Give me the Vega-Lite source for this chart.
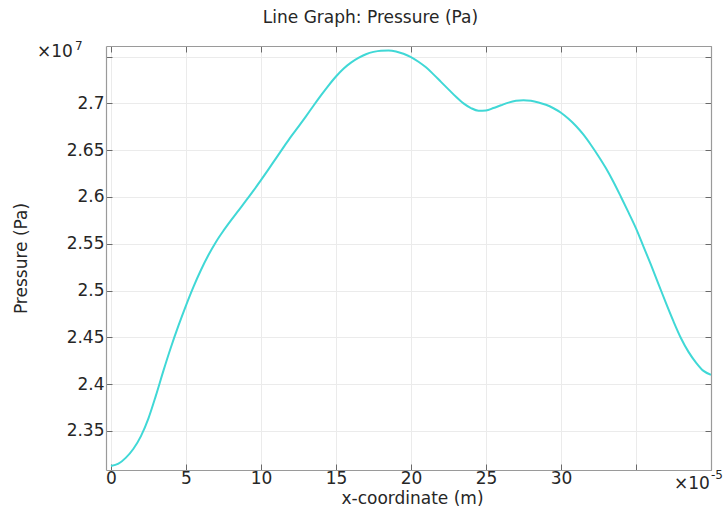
{
  "$schema": "https://vega.github.io/schema/vega-lite/v6.json",
  "width": 605,
  "height": 424,
  "autosize": {"type": "none"},
  "padding": {"left": 106, "top": 46, "right": 13, "bottom": 40},
  "background": "white",
  "title": {
    "text": "Line Graph: Pressure (Pa)",
    "font": "DejaVu Sans",
    "fontSize": 17,
    "fontWeight": "normal",
    "color": "#262626",
    "anchor": "middle",
    "frame": "group",
    "dx": -38,
    "baseline": "alphabetic",
    "offset": 0
  },
  "config": {
    "font": "DejaVu Sans",
    "view": {"stroke": null},
    "axis": {
      "labelFont": "DejaVu Sans",
      "labelFontSize": 17,
      "labelColor": "#262626",
      "titleFont": "DejaVu Sans",
      "titleFontSize": 17,
      "titleFontWeight": "normal",
      "titleColor": "#262626",
      "gridColor": "#ebebeb",
      "gridWidth": 1,
      "domainColor": "#9a9a9a",
      "domainWidth": 1.2,
      "tickColor": "#6a6a6a",
      "tickSize": -6,
      "tickWidth": 1
    }
  },
  "data": {
    "values": [
      {"x": 0, "pressure": 23125000},
      {"x": 5e-6, "pressure": 23150000},
      {"x": 1e-5, "pressure": 23215000},
      {"x": 1.5e-5, "pressure": 23310000},
      {"x": 2e-5, "pressure": 23445000},
      {"x": 2.5e-5, "pressure": 23635000},
      {"x": 3e-5, "pressure": 23880000},
      {"x": 3.5e-5, "pressure": 24145000},
      {"x": 4e-5, "pressure": 24395000},
      {"x": 4.5e-5, "pressure": 24625000},
      {"x": 5e-5, "pressure": 24840000},
      {"x": 5.5e-5, "pressure": 25040000},
      {"x": 6e-5, "pressure": 25220000},
      {"x": 6.5e-5, "pressure": 25380000},
      {"x": 7e-5, "pressure": 25520000},
      {"x": 7.5e-5, "pressure": 25640000},
      {"x": 8e-5, "pressure": 25750000},
      {"x": 8.5e-5, "pressure": 25855000},
      {"x": 9e-5, "pressure": 25960000},
      {"x": 9.5e-5, "pressure": 26068000},
      {"x": 1e-4, "pressure": 26180000},
      {"x": 1.05e-4, "pressure": 26295000},
      {"x": 1.1e-4, "pressure": 26413000},
      {"x": 1.15e-4, "pressure": 26530000},
      {"x": 1.2e-4, "pressure": 26645000},
      {"x": 1.25e-4, "pressure": 26752000},
      {"x": 1.3e-4, "pressure": 26862000},
      {"x": 1.35e-4, "pressure": 26975000},
      {"x": 1.4e-4, "pressure": 27085000},
      {"x": 1.45e-4, "pressure": 27190000},
      {"x": 1.5e-4, "pressure": 27287000},
      {"x": 1.55e-4, "pressure": 27370000},
      {"x": 1.6e-4, "pressure": 27435000},
      {"x": 1.65e-4, "pressure": 27485000},
      {"x": 1.7e-4, "pressure": 27525000},
      {"x": 1.75e-4, "pressure": 27550000},
      {"x": 1.8e-4, "pressure": 27563000},
      {"x": 1.85e-4, "pressure": 27565000},
      {"x": 1.9e-4, "pressure": 27555000},
      {"x": 1.95e-4, "pressure": 27530000},
      {"x": 2e-4, "pressure": 27495000},
      {"x": 2.05e-4, "pressure": 27445000},
      {"x": 2.1e-4, "pressure": 27385000},
      {"x": 2.15e-4, "pressure": 27310000},
      {"x": 2.2e-4, "pressure": 27230000},
      {"x": 2.25e-4, "pressure": 27150000},
      {"x": 2.3e-4, "pressure": 27070000},
      {"x": 2.35e-4, "pressure": 27000000},
      {"x": 2.4e-4, "pressure": 26950000},
      {"x": 2.45e-4, "pressure": 26922000},
      {"x": 2.5e-4, "pressure": 26925000},
      {"x": 2.55e-4, "pressure": 26950000},
      {"x": 2.6e-4, "pressure": 26980000},
      {"x": 2.65e-4, "pressure": 27008000},
      {"x": 2.7e-4, "pressure": 27027000},
      {"x": 2.75e-4, "pressure": 27034000},
      {"x": 2.8e-4, "pressure": 27027000},
      {"x": 2.85e-4, "pressure": 27010000},
      {"x": 2.9e-4, "pressure": 26985000},
      {"x": 2.95e-4, "pressure": 26948000},
      {"x": 3e-4, "pressure": 26900000},
      {"x": 3.05e-4, "pressure": 26835000},
      {"x": 3.1e-4, "pressure": 26758000},
      {"x": 3.15e-4, "pressure": 26665000},
      {"x": 3.2e-4, "pressure": 26555000},
      {"x": 3.25e-4, "pressure": 26435000},
      {"x": 3.3e-4, "pressure": 26306000},
      {"x": 3.35e-4, "pressure": 26160000},
      {"x": 3.4e-4, "pressure": 26000000},
      {"x": 3.45e-4, "pressure": 25835000},
      {"x": 3.5e-4, "pressure": 25665000},
      {"x": 3.55e-4, "pressure": 25470000},
      {"x": 3.6e-4, "pressure": 25274000},
      {"x": 3.65e-4, "pressure": 25070000},
      {"x": 3.7e-4, "pressure": 24865000},
      {"x": 3.75e-4, "pressure": 24670000},
      {"x": 3.8e-4, "pressure": 24491000},
      {"x": 3.85e-4, "pressure": 24345000},
      {"x": 3.9e-4, "pressure": 24231000},
      {"x": 3.95e-4, "pressure": 24142000},
      {"x": 4e-4, "pressure": 24100000}
    ]
  },
  "resolve": {"axis": {"x": "independent", "y": "independent"}},
  "layer": [
    {
      "mark": {"type": "line", "color": "#40d8d6", "strokeWidth": 2, "interpolate": "monotone", "clip": true},
      "encoding": {
        "x": {
          "field": "x",
          "type": "quantitative",
          "scale": {"domain": [-3.3e-6, 4e-4], "nice": false, "zero": false},
          "axis": {
            "orient": "bottom",
            "title": "x-coordinate (m)",
            "values": [0, 5e-5, 1e-4, 1.5e-4, 2e-4, 2.5e-4, 3e-4, 3.5e-4, 4e-4],
            "labelExpr": "datum.value > 3.4e-4 ? '' : format(datum.value * 1e5, 'd')",
            "labelPadding": 6,
            "titleX": 306,
            "titleY": 33,
            "titleBaseline": "alphabetic",
            "titleAnchor": "middle",
            "grid": true
          }
        },
        "y": {
          "field": "pressure",
          "type": "quantitative",
          "scale": {"domain": [23083000, 27613000], "nice": false, "zero": false},
          "axis": {
            "orient": "left",
            "title": "Pressure (Pa)",
            "values": [23500000, 24000000, 24500000, 25000000, 25500000, 26000000, 26500000, 27000000, 27500000],
            "labelExpr": "datum.value > 27400000 ? '' : format(datum.value / 1e7, '.3~f')",
            "labelPadding": 8,
            "titleX": -85,
            "titleY": 212,
            "titleAngle": 270,
            "titleBaseline": "middle",
            "titleAnchor": "middle",
            "grid": true
          }
        }
      }
    },
    {
      "mark": {"type": "line", "strokeOpacity": 0},
      "encoding": {
        "x": {
          "field": "x",
          "type": "quantitative",
          "axis": {
            "orient": "top",
            "title": null,
            "labels": false,
            "grid": false,
            "values": [0, 5e-5, 1e-4, 1.5e-4, 2e-4, 2.5e-4, 3e-4, 3.5e-4, 4e-4]
          }
        },
        "y": {
          "field": "pressure",
          "type": "quantitative",
          "axis": {
            "orient": "right",
            "title": null,
            "labels": false,
            "grid": false,
            "values": [23500000, 24000000, 24500000, 25000000, 25500000, 26000000, 26500000, 27000000, 27500000]
          }
        }
      }
    },
    {
      "data": {"values": [{"label": "×10"}]},
      "mark": {"type": "text", "align": "right", "baseline": "alphabetic", "dx": -38, "dy": 0, "fontSize": 17, "font": "DejaVu Sans", "color": "#262626"},
      "encoding": {
        "text": {"field": "label"},
        "x": {"datum": 0, "type": "quantitative", "axis": null},
        "y": {"datum": 27500000, "type": "quantitative", "axis": null}
      }
    },
    {
      "data": {"values": [{"label": "7"}]},
      "mark": {"type": "text", "align": "left", "baseline": "alphabetic", "dx": -36, "dy": -7, "fontSize": 12, "font": "DejaVu Sans", "color": "#262626"},
      "encoding": {
        "text": {"field": "label"},
        "x": {"datum": 0, "type": "quantitative", "axis": null},
        "y": {"datum": 27500000, "type": "quantitative", "axis": null}
      }
    },
    {
      "data": {"values": [{"label": "×10"}]},
      "mark": {"type": "text", "align": "left", "baseline": "alphabetic", "dx": -37, "dy": 58, "fontSize": 17, "font": "DejaVu Sans", "color": "#262626"},
      "encoding": {
        "text": {"field": "label"},
        "x": {"datum": 4e-4, "type": "quantitative", "axis": null},
        "y": {"datum": 23500000, "type": "quantitative", "axis": null}
      }
    },
    {
      "data": {"values": [{"label": "-5"}]},
      "mark": {"type": "text", "align": "left", "baseline": "alphabetic", "dx": 0, "dy": 48, "fontSize": 12, "font": "DejaVu Sans", "color": "#262626"},
      "encoding": {
        "text": {"field": "label"},
        "x": {"datum": 4e-4, "type": "quantitative", "axis": null},
        "y": {"datum": 23500000, "type": "quantitative", "axis": null}
      }
    }
  ]
}
